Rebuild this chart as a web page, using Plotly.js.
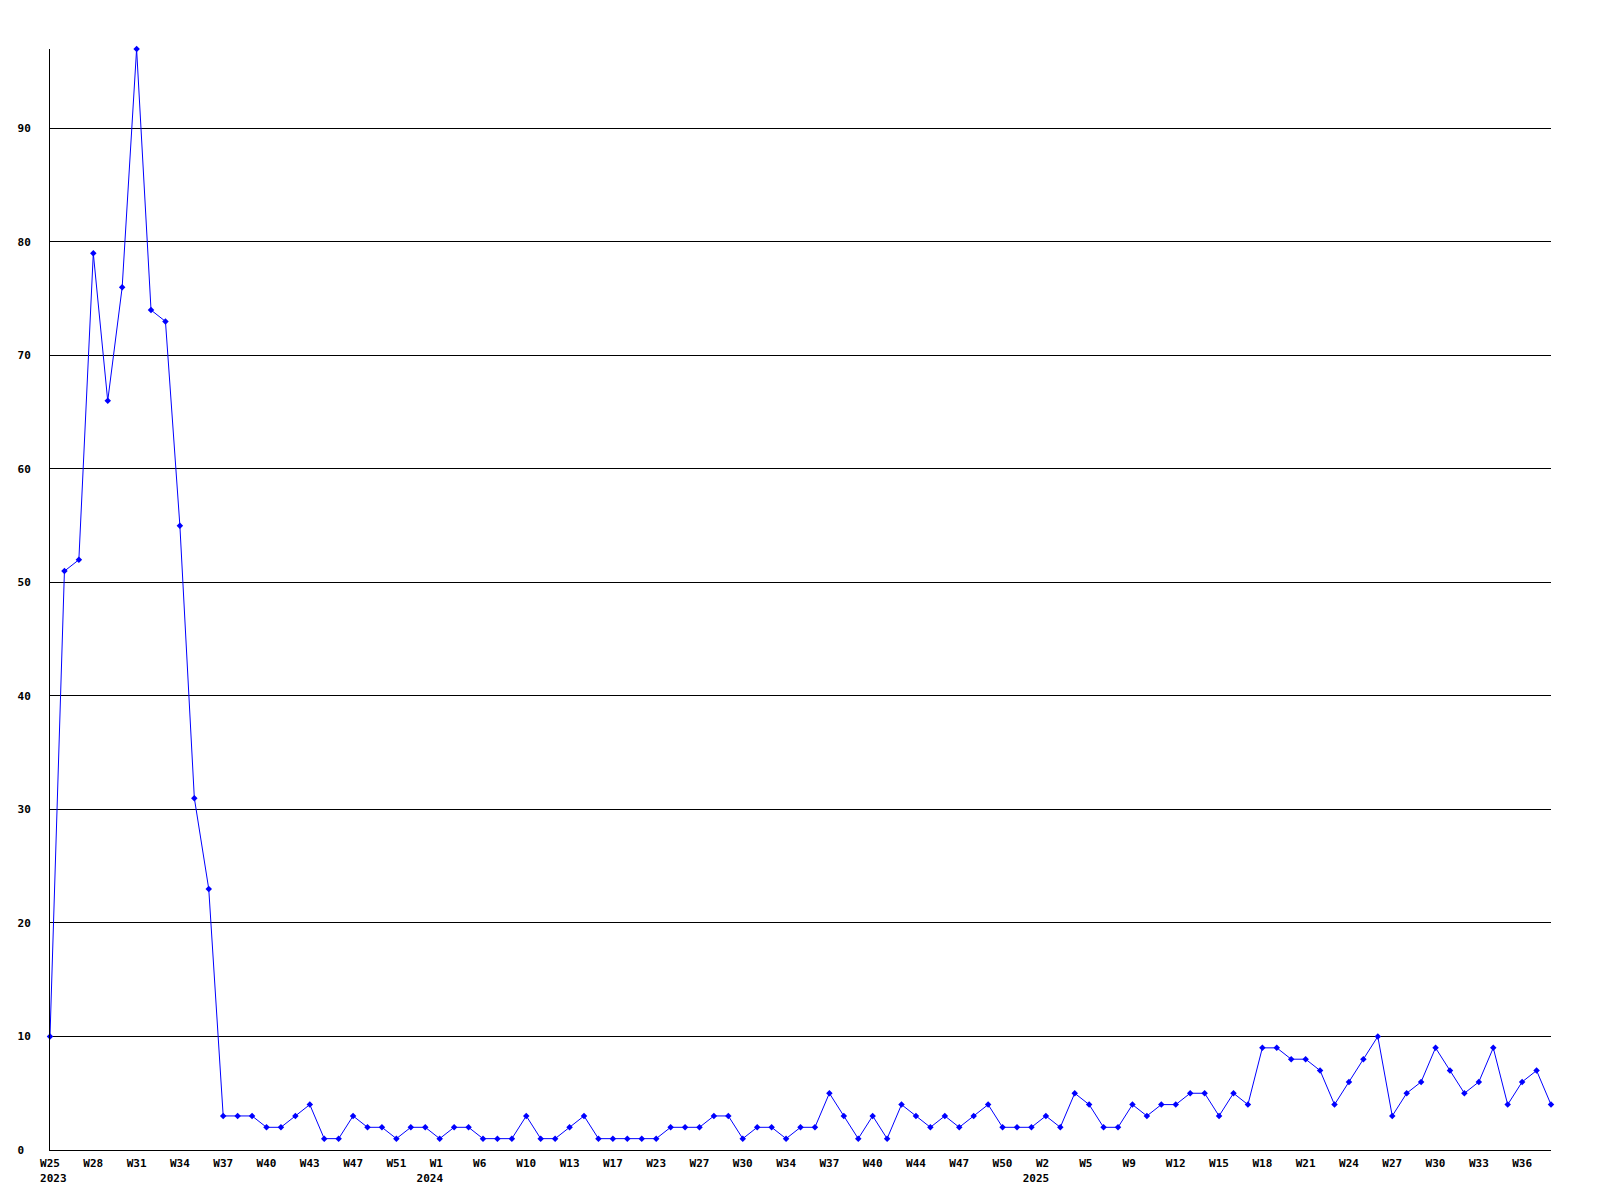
<!DOCTYPE html>
<html>
<head>
<meta charset="utf-8">
<script src="https://cdn.plot.ly/plotly-3.0.1.min.js"></script>
<style>html,body{margin:0;padding:0;background:#fff;}#chart{width:1600px;height:1200px;}</style>
</head>
<body>
<div id="chart"></div>
<script>
// Week categories (year-qualified), one per data point
const weeks2023 = ["W25","W26","W27","W28","W29","W30","W31","W32","W33","W34","W35","W36","W37","W38","W39","W40","W41","W42","W43","W44","W46","W47","W48","W50","W51","W52"];
const weeks2024 = ["W0","W1","W2","W4","W6","W7","W8","W10","W11","W12","W13","W14","W15","W17","W18","W20","W23","W24","W25","W27","W28","W29","W30","W31","W32","W34","W35","W36","W37","W38","W39","W40","W41","W42","W44","W45","W46","W47","W48","W49","W50","W51","W52"];
const weeks2025 = ["W2","W3","W4","W5","W6","W7","W9","W10","W11","W12","W13","W14","W15","W16","W17","W18","W19","W20","W21","W22","W23","W24","W25","W26","W27","W28","W29","W30","W31","W32","W33","W34","W35","W36","W37","W38"];

// Weekly counts, in the same order
const counts2023 = [10,51,52,79,66,76,97,74,73,55,31,23,3,3,3,2,2,3,4,1,1,3,2,2,1,2];
const counts2024 = [2,1,2,2,1,1,1,3,1,1,2,3,1,1,1,1,1,2,2,2,3,3,1,2,2,1,2,2,5,3,1,3,1,4,3,2,3,2,3,4,2,2,2];
const counts2025 = [3,2,5,4,2,2,4,3,4,4,5,5,3,5,4,9,9,8,8,7,4,6,8,10,3,5,6,9,7,5,6,9,4,6,7,4];

const yearNames = ["2023","2024","2025"];
const yTicks = [0,10,20,30,40,50,60,70,80,90];
const tickEvery = 3;

// Build categories
const weekLists = [weeks2023, weeks2024, weeks2025];
const categories = [];
const shortLabels = [];
const yearOf = [];
weekLists.forEach((list, yi) => {
  list.forEach(w => {
    categories.push(yearNames[yi] + "-" + w);
    shortLabels.push(w);
    yearOf.push(yearNames[yi]);
  });
});
const values = counts2023.concat(counts2024, counts2025);

const NB = "\u00a0";
// Tick labels: every third point; the year is shown under the first tick of each year.
// Week labels are left-aligned (padded to 3 monospace chars).
const tickVals = [];
const tickText = [];
let lastYear = null;
for (let i = 0; i < categories.length; i += tickEvery) {
  tickVals.push(categories[i]);
  const wk = shortLabels[i].padEnd(3, NB);
  if (yearOf[i] !== lastYear) {
    const yr = (lastYear === null) ? NB + yearOf[i] : yearOf[i] + NB.repeat(3);
    tickText.push(wk + "<br>" + yr);
    lastYear = yearOf[i];
  } else {
    tickText.push(wk);
  }
}
const yTickText = yTicks.map(v => String(v).padEnd(2, NB));

const tickFont = {family: "DejaVu Sans Mono, monospace", size: 11, color: "#000", weight: "bold"};

const trace = {
  x: categories,
  y: values,
  type: "scatter",
  mode: "lines+markers",
  line: {color: "#0000ff", width: 1},
  marker: {color: "#0000ff", symbol: "diamond", size: 5},
  cliponaxis: false,
  hoverinfo: "x+y"
};

const layout = {
  width: 1600,
  height: 1200,
  margin: {l: 50, r: 49, t: 49, b: 50, pad: 0},
  paper_bgcolor: "#ffffff",
  plot_bgcolor: "#ffffff",
  showlegend: false,
  xaxis: {
    type: "category",
    range: [0, categories.length - 1],
    tickmode: "array",
    tickvals: tickVals,
    ticktext: tickText,
    tickfont: tickFont,
    ticks: "",
    ticklabelstandoff: 3,
    showgrid: false,
    showline: true,
    linecolor: "#000",
    linewidth: 1,
    zeroline: false,
    fixedrange: true
  },
  yaxis: {
    range: [0, 97],
    tickmode: "array",
    tickvals: yTicks,
    ticktext: yTickText,
    tickfont: tickFont,
    ticks: "",
    ticklabelstandoff: 16,
    showgrid: true,
    gridcolor: "#000",
    gridwidth: 1,
    showline: true,
    linecolor: "#000",
    linewidth: 1,
    zeroline: false,
    fixedrange: true
  }
};

Plotly.newPlot("chart", [trace], layout, {displayModeBar: false, staticPlot: true});
</script>
</body>
</html>
